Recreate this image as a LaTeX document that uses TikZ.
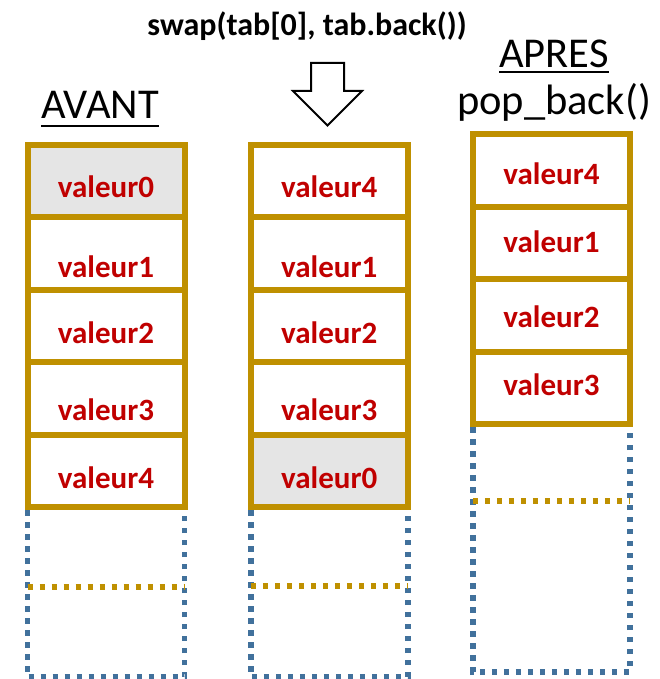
\documentclass[tikz,border=0pt]{standalone}
\usepackage{fontspec}
\setmainfont{Carlito}
\definecolor{or}{HTML}{BF9000}
\definecolor{bleu}{HTML}{41719C}
\definecolor{rouge}{HTML}{C00000}

\begin{document}
\begin{tikzpicture}[x=1pt, y=-1pt, node distance=72.4pt,
  case/.style = {draw=or, line width=6pt, minimum width=157pt, minimum height=72.4pt, inner sep=0pt, outer sep=0pt},
  gris/.style = {fill=gray!20},
  val/.style = {anchor=base, text=rouge, inner sep=0pt, font=\bfseries\fontsize{31}{31}\selectfont},
  titre/.style = {anchor=base, inner sep=0pt, font=\fontsize{42.5}{42.5}\selectfont},
  vide/.style = {draw=bleu, line width=5.5pt, dash pattern=on 5.5pt off 6.5pt},
  milieu/.style = {draw=or, line width=5.5pt, dash pattern=on 5.5pt off 6.5pt}]
  \useasboundingbox (0,0) rectangle (660,679);

  % titres
  \node[titre, font=\bfseries\fontsize{32}{32}\selectfont] (swap) at (307,36) {swap(tab[0], tab.back())};
  \node[titre] (avant) at (100,119) {AVANT};
  \node[titre] (apres) at (554,68) {APRES};
  \node[titre] (pop) at (554,115) {pop\_back()};
  \draw[line width=2pt] ([yshift=-7pt]avant.base west) -- ([yshift=-7pt]avant.base east);
  \draw[line width=2pt] ([yshift=-4pt]apres.base west) -- ([yshift=-4pt]apres.base east);
  \draw[line width=2pt, line join=miter] (311,63) -- (344,63) -- (344,91) -- (362,91) -- (327.5,125.5) -- (293,91) -- (311,91) -- cycle;

  % avant
  \node[case, gris] (a0) at (106,181.2) {};
  \node[case] (a1) [below of=a0] {};
  \node[case] (a2) [below of=a1] {};
  \node[case] (a3) [below of=a2] {};
  \node[case] (a4) [below of=a3] {};
  \node[val] (va0) at ([yshift=-16pt]a0.center) {valeur0};
  \node[val] (va1) at ([yshift=-23.4pt]a1.center) {valeur1};
  \node[val] (va2) at ([yshift=-17pt]a2.center) {valeur2};
  \node[val] (va3) at ([yshift=-21.6pt]a3.center) {valeur3};
  \node[val] (va4) at ([yshift=-17.2pt]a4.center) {valeur4};
  \draw[vide] ([yshift=-3pt]a4.south west) -- ([yshift=-170pt]a4.south west) -- ([yshift=-170pt]a4.south east) -- ([yshift=-3pt]a4.south east);
  \draw[milieu] ([yshift=-80pt]a4.south west) -- ([yshift=-80pt]a4.south east);

  % swap
  \node[case] (b0) at (329.25,181.2) {};
  \node[case] (b1) [below of=b0] {};
  \node[case] (b2) [below of=b1] {};
  \node[case] (b3) [below of=b2] {};
  \node[case, gris] (b4) [below of=b3] {};
  \node[val] (vb0) at ([yshift=-16pt]b0.center) {valeur4};
  \node[val] (vb1) at ([yshift=-23.4pt]b1.center) {valeur1};
  \node[val] (vb2) at ([yshift=-17pt]b2.center) {valeur2};
  \node[val] (vb3) at ([yshift=-21.6pt]b3.center) {valeur3};
  \node[val] (vb4) at ([yshift=-17.2pt]b4.center) {valeur0};
  \draw[vide] ([yshift=-3pt]b4.south west) -- ([yshift=-170pt]b4.south west) -- ([yshift=-170pt]b4.south east) -- ([yshift=-3pt]b4.south east);
  \draw[milieu] ([yshift=-79pt]b4.south west) -- ([yshift=-79pt]b4.south east);

  % apres
  \node[case] (c0) at (551.4,170.7) {};
  \node[case] (c1) [below of=c0] {};
  \node[case] (c2) [below of=c1] {};
  \node[case] (c3) [below of=c2] {};
  \node[val] (vc0) at ([yshift=-13.3pt]c0.center) {valeur4};
  \node[val] (vc1) at ([yshift=-8.9pt]c1.center) {valeur1};
  \node[val] (vc2) at ([yshift=-11.5pt]c2.center) {valeur2};
  \node[val] (vc3) at ([yshift=-7.1pt]c3.center) {valeur3};
  \draw[vide] ([yshift=-3pt]c3.south west) -- ([yshift=-248pt]c3.south west) -- ([yshift=-248pt]c3.south east) -- ([yshift=-3pt]c3.south east);
  \draw[milieu] ([yshift=-77pt]c3.south west) -- ([yshift=-77pt]c3.south east);
\end{tikzpicture}
\end{document}
